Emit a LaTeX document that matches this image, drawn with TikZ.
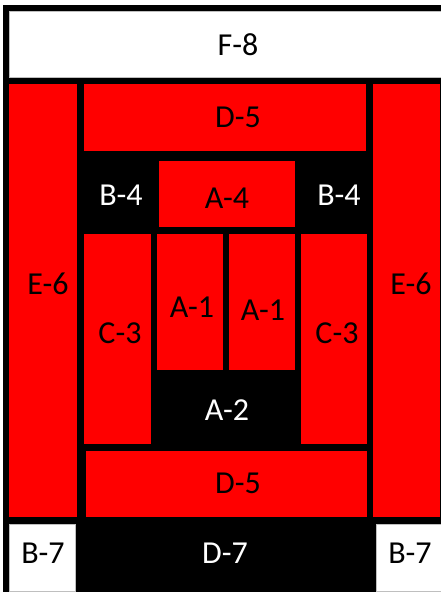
\documentclass[tikz,border=0pt]{standalone}
\usepackage{fontspec}
\setmainfont{Carlito}
\definecolor{cellRed}{HTML}{FF0000}
\definecolor{edgeGray}{HTML}{BFBFBF}
\tikzset{
  redcell/.style={fill=cellRed},
  whitecell/.style={fill=white, draw=edgeGray, line width=0.5pt},
  darktext/.style={text=black, font=\fontsize{32}{38}\selectfont},
  lighttext/.style={text=white, font=\fontsize{32}{38}\selectfont}
}

\begin{document}
\begin{tikzpicture}[x=1pt, y=-1pt]
  \useasboundingbox (0,0) rectangle (441,592);
  \fill[white] (0,0) rectangle (441,592);
  \fill[black] (3,5) rectangle (441,592);
  % top strip
  \path[whitecell] (9,11) rectangle (441,77);
  \node[darktext] (f8) at (238,45) {F-8};
  % outer columns
  \path[redcell] (9,84) rectangle (77,517);
  \path[redcell] (373,84) rectangle (440,517);
  \node[darktext] (e6l) at (48,284) {E-6};
  \node[darktext] (e6r) at (411,284) {E-6};
  % horizontal bands
  \path[redcell] (84,84) rectangle (366,151);
  \path[redcell] (86,451) rectangle (367,517);
  \node[darktext] (d5t) at (238,117) {D-5};
  \node[darktext] (d5b) at (238,483) {D-5};
  % inner block
  \path[redcell] (159,161) rectangle (295,227);
  \node[darktext] (a4) at (227,198) {A-4};
  \node[lighttext] (b4l) at (121,195) {B-4};
  \node[lighttext] (b4r) at (339,195) {B-4};
  \path[redcell] (84,234) rectangle (151,444);
  \path[redcell] (301,234) rectangle (367,444);
  \node[darktext] (c3l) at (120,333) {C-3};
  \node[darktext] (c3r) at (337,333) {C-3};
  \path[redcell] (157,234) rectangle (223,370);
  \path[redcell] (229,234) rectangle (295,370);
  \node[darktext] (a1l) at (192,307) {A-1};
  \node[darktext] (a1r) at (263,310) {A-1};
  \node[lighttext] (a2) at (227,410) {A-2};
  % bottom row
  \path[whitecell] (9,524) rectangle (75,591);
  \path[whitecell] (376,524) rectangle (441,591);
  \node[darktext] (b7l) at (43,553) {B-7};
  \node[darktext] (b7r) at (410,553) {B-7};
  \node[lighttext] (d7) at (225,553) {D-7};
\end{tikzpicture}
\end{document}
